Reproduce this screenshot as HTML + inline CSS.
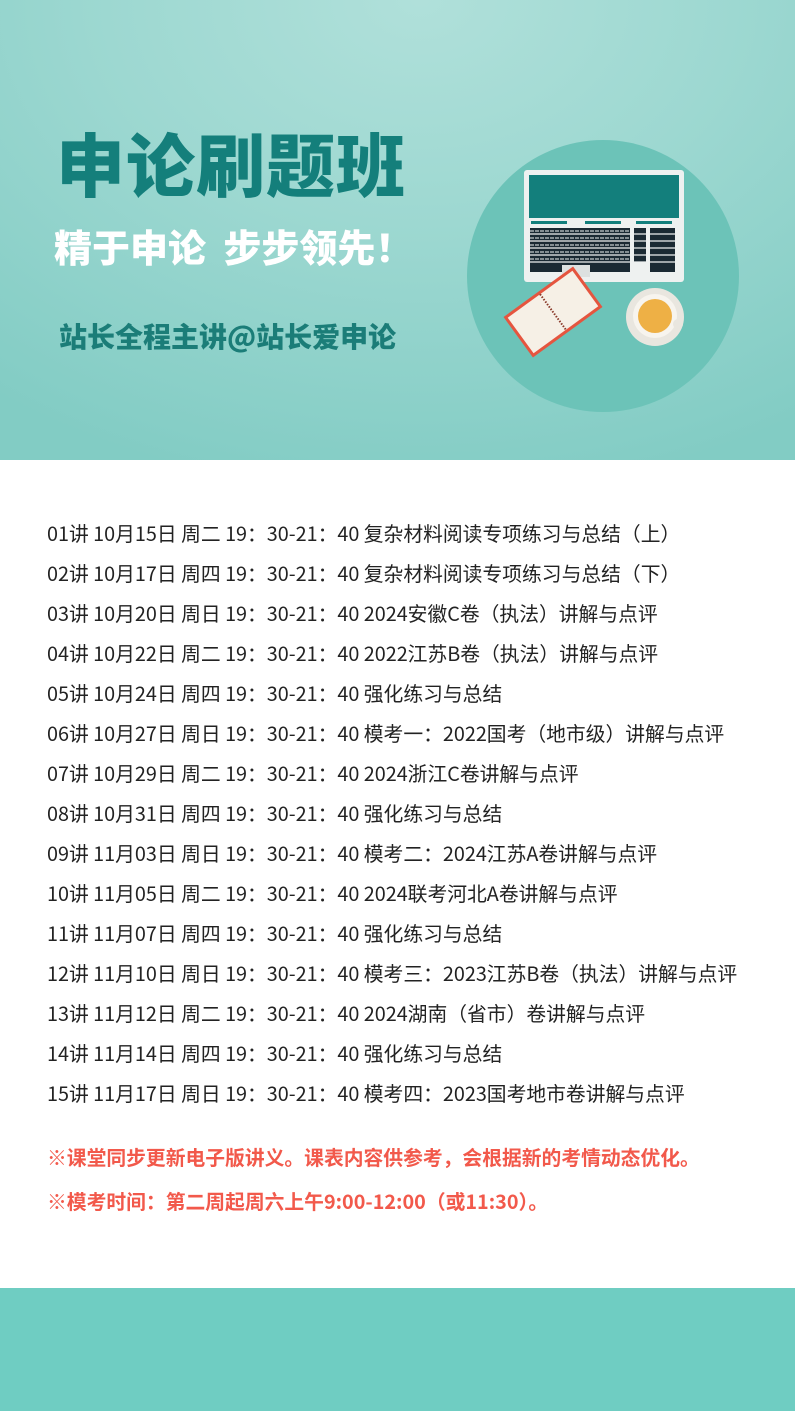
<!DOCTYPE html>
<html><head><meta charset="utf-8">
<style>
*{margin:0;padding:0;box-sizing:border-box}
body{width:795px;height:1411px;background:#fff;font-family:"Liberation Sans","Noto Sans CJK SC",sans-serif;position:relative;overflow:hidden}
#hdr{position:absolute;left:0;top:0;width:795px;height:460px;background:radial-gradient(ellipse 700px 500px at 420px 0px,#b0e0da 0%,#9dd8d1 45%,#82ccc4 100%)}
.t{position:absolute;white-space:nowrap;font-family:"Noto Sans CJK SC",sans-serif;font-weight:900}
#title{left:56px;top:111px;font-size:69px;color:#147f7b;letter-spacing:1px}
#sub{left:54px;top:218px;font-size:38px;color:#fff}
#auth{left:59px;top:316px;font-size:28px;color:#1b7d78}
#list{position:absolute;left:47px;top:518px}
.row{height:40px;font-size:19.8px;color:#222;white-space:nowrap;line-height:30px;font-family:"Noto Sans CJK SC",sans-serif}
.note{position:absolute;left:47px;font-size:19.8px;color:#f2594b;font-weight:700;white-space:nowrap;font-family:"Noto Sans CJK SC",sans-serif}
#ftr{position:absolute;left:0;top:1288px;width:795px;height:123px;background:#6fcdc2}
</style></head><body>
<div id="hdr">
<div class="t" id="title">申论刷题班</div>
<div class="t" id="sub">精于申论&nbsp;&nbsp;步步领先！</div>
<div class="t" id="auth">站长全程主讲@站长爱申论</div>
<svg style="position:absolute;left:460px;top:130px" width="290" height="290" viewBox="460 130 290 290">
<circle cx="603" cy="276" r="136" fill="#6cc3b8"/>
<rect x="524" y="170" width="160" height="112" rx="3" fill="#eef1f0"/>
<rect x="529" y="175" width="150" height="43" fill="#137f7c"/>
<rect x="531" y="221" width="36" height="3" fill="#137f7c"/><rect x="585" y="221" width="36" height="3" fill="#137f7c"/><rect x="636" y="221" width="36" height="3" fill="#137f7c"/>
<rect x="530" y="228" width="100" height="44" fill="#1b2a33"/>
<rect x="634" y="228" width="12" height="34" fill="#1b2a33"/>
<rect x="650" y="228" width="25" height="44" fill="#1b2a33"/>
<g stroke="#eef1f0" stroke-width="1.2">
<line x1="530" y1="234" x2="676" y2="234"/><line x1="530" y1="241" x2="676" y2="241"/><line x1="530" y1="248" x2="676" y2="248"/><line x1="530" y1="255" x2="676" y2="255"/><line x1="530" y1="262" x2="676" y2="262"/>
</g>
<g stroke="#eef1f0" stroke-width="1" stroke-dasharray="4 1">
<line x1="530" y1="231" x2="630" y2="231"/><line x1="530" y1="238" x2="630" y2="238"/><line x1="530" y1="245" x2="630" y2="245"/><line x1="530" y1="252" x2="630" y2="252"/><line x1="530" y1="259" x2="630" y2="259"/>
</g>
<rect x="562" y="265" width="28" height="12" fill="#dde1e0"/>
<g transform="rotate(-36 553 312)"><rect x="510" y="287" width="86" height="50" fill="#e5553f"/><rect x="513" y="290" width="80" height="44" fill="#f6f0e6"/><line x1="553" y1="290" x2="553" y2="334" stroke="#8a3a2a" stroke-width="2" stroke-dasharray="1.5 1.5"/></g>
<circle cx="655" cy="317" r="29" fill="#e9e6df"/><circle cx="655" cy="316" r="22" fill="#f7f4ee"/><circle cx="655" cy="316" r="17" fill="#eeb045"/><circle cx="678" cy="324" r="5" fill="#e9e6df"/>
</svg>
</div>
<div id="list">
<div class="row">01讲 10月15日 周二 19：30-21：40 复杂材料阅读专项练习与总结（上）</div>
<div class="row">02讲 10月17日 周四 19：30-21：40 复杂材料阅读专项练习与总结（下）</div>
<div class="row">03讲 10月20日 周日 19：30-21：40 2024安徽C卷（执法）讲解与点评</div>
<div class="row">04讲 10月22日 周二 19：30-21：40 2022江苏B卷（执法）讲解与点评</div>
<div class="row">05讲 10月24日 周四 19：30-21：40 强化练习与总结</div>
<div class="row">06讲 10月27日 周日 19：30-21：40 模考一：2022国考（地市级）讲解与点评</div>
<div class="row">07讲 10月29日 周二 19：30-21：40 2024浙江C卷讲解与点评</div>
<div class="row">08讲 10月31日 周四 19：30-21：40 强化练习与总结</div>
<div class="row">09讲 11月03日 周日 19：30-21：40 模考二：2024江苏A卷讲解与点评</div>
<div class="row">10讲 11月05日 周二 19：30-21：40 2024联考河北A卷讲解与点评</div>
<div class="row">11讲 11月07日 周四 19：30-21：40 强化练习与总结</div>
<div class="row">12讲 11月10日 周日 19：30-21：40 模考三：2023江苏B卷（执法）讲解与点评</div>
<div class="row">13讲 11月12日 周二 19：30-21：40 2024湖南（省市）卷讲解与点评</div>
<div class="row">14讲 11月14日 周四 19：30-21：40 强化练习与总结</div>
<div class="row">15讲 11月17日 周日 19：30-21：40 模考四：2023国考地市卷讲解与点评</div>
</div>
<div class="note" style="top:1142px">※课堂同步更新电子版讲义。课表内容供参考，会根据新的考情动态优化。</div>
<div class="note" style="top:1186px">※模考时间：第二周起周六上午9:00-12:00（或11:30）。</div>
<div id="ftr"></div>
</body></html>
